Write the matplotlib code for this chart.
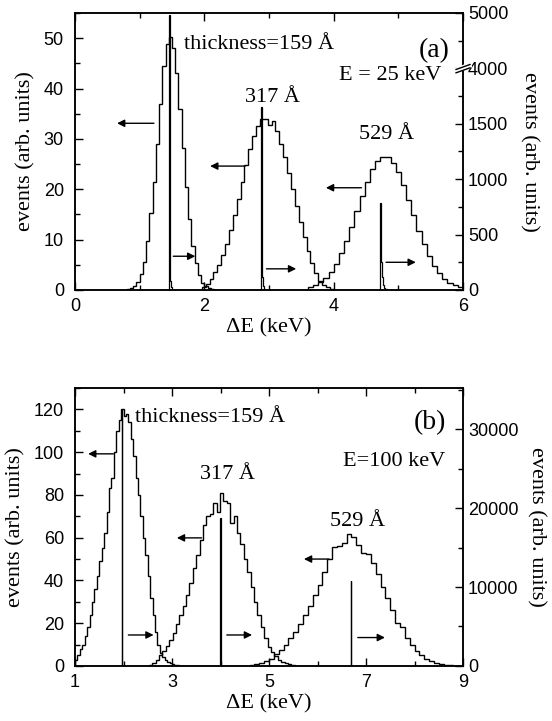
import numpy as np
import matplotlib
matplotlib.use("Agg")
import matplotlib.pyplot as plt
from matplotlib.ticker import MultipleLocator, FixedLocator

plt.rcParams['font.family'] = ['Liberation Sans', 'DejaVu Sans']
SERIF = ['Liberation Serif', 'DejaVu Serif']

# ---- panel (a): E = 25 keV ----
# broad peaks (left axis): bin start, bin width, counts
a159_start, a159_width = 0.75, 0.05
a159_counts = [0, 0.2, 0.4, 0.8, 1.6, 3.2, 5.5, 9.8, 15.2, 21.5, 29.0, 37.0, 44.5,
               48.8, 50.3, 48.0, 43.0, 36.0, 28.2, 20.5, 14.0, 8.8, 5.3, 2.9, 1.4,
               0.8, 0.4, 0.2, 0]
a317_start, a317_width = 1.96, 0.06
a317_counts = [0.5, 1.2, 2.2, 3.5, 5.0, 6.9, 9.2, 11.9, 14.8, 18.1, 21.5, 24.8,
               27.9, 30.5, 32.5, 33.9, 33.9, 32.8, 33.5, 31.5, 29.0, 26.5, 23.2,
               20.0, 16.6, 13.5, 10.5, 7.8, 5.4, 3.4, 1.8, 1.0, 0.5, 0.2]
a529_start, a529_width = 3.60, 0.08
a529_counts = [0.5, 0.9, 1.5, 2.4, 3.6, 5.2, 7.3, 9.7, 12.5, 15.6, 18.7, 21.5,
               24.0, 25.7, 26.5, 26.5, 25.3, 23.4, 20.9, 17.9, 14.8, 11.8, 9.1,
               6.7, 4.8, 3.3, 2.2, 1.4, 0.9, 0.5]
# narrow peaks (right axis, broken scale: 2000 -> 4000, 2500 -> 5000)
s_a159_start, s_a159_width = 1.455, 0.01
s_a159_counts = [2480, 350, 80, 25, 10, 4, 0]
s_a317_start, s_a317_width = 2.875, 0.01
s_a317_counts = [1650, 500, 120, 40, 15, 5, 0]
s_a529_start, s_a529_width = 4.715, 0.01
s_a529_counts = [785, 540, 250, 120, 70, 45, 30, 20, 12, 8, 5, 3, 0]
a_right_ticks = [0, 500, 1000, 1500, 2000, 2500]
a_right_labels = ['0', '500', '1000', '1500', '4000', '5000']

# ---- panel (b): E = 100 keV ----
b159_start, b159_width = 1.00, 0.05
b159_counts = [3, 5, 8, 10, 14, 18, 24, 30, 36, 42, 49, 55, 62, 72, 83, 88, 100,
               110, 115, 120, 117, 118, 114, 106, 98, 88, 80, 70, 60, 52, 42, 32,
               24, 16, 10, 6, 4, 3, 2, 1.5, 1, 0.5, 0.3, 0]
b317_start, b317_width = 2.52, 0.07
b317_counts = [0.5, 1.5, 3, 5, 7, 9.5, 12, 15.5, 19.5, 24, 28, 33, 39, 46, 52, 59,
               66, 70, 71, 76, 72, 81, 77, 76, 67, 70, 62, 57, 50, 44, 37, 30, 24,
               18, 13, 9, 6.5, 4.5, 3, 2, 1.3, 0.8, 0.4, 0.2]
b529_start, b529_width = 4.60, 0.10
b529_counts = [0.3, 0.7, 1.3, 2.2, 3.5, 5.5, 7.5, 10, 13, 16, 19.5, 24, 28, 33,
               38, 44, 50, 55.5, 56, 57.5, 61.5, 60.5, 56.5, 53, 52.5, 48, 43, 37,
               32, 26, 20, 18, 13, 10, 7, 5, 3.5, 2.5, 1.5, 1, 0.6, 0.4, 0.2, 0.1]
s_b159_start, s_b159_width = 1.97, 0.005
s_b159_counts = [32500]
s_b317_start, s_b317_width = 3.995, 0.005
s_b317_counts = [18700]
s_b529_start, s_b529_width = 6.695, 0.005
s_b529_counts = [10700]
b_xticks = [1, 3, 5, 7, 9]


def edges(start, width, counts):
    return start + width * np.arange(len(counts) + 1)


def hist(ax, start, width, counts, lw=1.0):
    ax.stairs(counts, edges(start, width, counts), color='k', lw=lw, baseline=0)


def arrow(ax, tail, head):
    ax.annotate('', xy=head, xytext=tail,
                arrowprops=dict(arrowstyle='-|>', color='k', lw=1.0,
                                mutation_scale=11, shrinkA=0, shrinkB=0))


def style(ax, ax2):
    for a in (ax, ax2):
        for s in a.spines.values():
            s.set_linewidth(1.1)
    ax.tick_params(which='both', direction='in', top=True, right=False,
                   labelsize=13, width=1.0)
    ax.tick_params(which='major', length=6)
    ax.tick_params(which='minor', length=3.5)
    ax.tick_params(axis='x', which='major', pad=6)
    ax.tick_params(axis='y', which='major', pad=8)
    ax2.tick_params(which='both', direction='in', labelsize=13, width=1.0)
    ax2.tick_params(which='major', length=6)
    ax2.tick_params(which='minor', length=3.5)


fig = plt.figure(figsize=(5.52, 7.21), dpi=100)

# ---------------- (a) ----------------
ax = fig.add_axes([0.1359, 0.5978, 0.7029, 0.3842])
ax2 = ax.twinx()
hist(ax, a159_start, a159_width, a159_counts)
hist(ax, a317_start, a317_width, a317_counts)
hist(ax, a529_start, a529_width, a529_counts)
hist(ax2, s_a159_start, s_a159_width, s_a159_counts, lw=0.9)
hist(ax2, s_a317_start, s_a317_width, s_a317_counts, lw=0.9)
hist(ax2, s_a529_start, s_a529_width, s_a529_counts, lw=0.9)
ax.set_xlim(0, 6)
ax.set_ylim(0, 55)
ax2.set_ylim(0, 2500)
ax.xaxis.set_major_locator(MultipleLocator(2))
ax.xaxis.set_minor_locator(MultipleLocator(1))
ax.yaxis.set_major_locator(MultipleLocator(10))
ax.yaxis.set_minor_locator(MultipleLocator(5))
ax2.yaxis.set_major_locator(FixedLocator(a_right_ticks))
ax2.set_yticklabels(a_right_labels)
ax2.yaxis.set_minor_locator(MultipleLocator(250))
style(ax, ax2)

# axis break on the right spine
yb = 2000 / 2500
ax2.plot([0.985, 1.015], [yb - 0.006, yb + 0.010], transform=ax2.transAxes,
         color='white', lw=4, clip_on=False, zorder=5)
for dy in (-0.012, 0.0):
    ax2.plot([0.982, 1.018], [yb + dy - 0.004, yb + dy + 0.014],
             transform=ax2.transAxes, color='k', lw=1.0, clip_on=False, zorder=6)

ax.set_xlabel('ΔE (keV)', family=SERIF, fontsize=16, labelpad=2)
ax.set_ylabel('events (arb. units)', family=SERIF, fontsize=16, labelpad=6)
ax2.set_ylabel('events (arb. units)', family=SERIF, fontsize=16,
               rotation=270, labelpad=22)

ax.text(1.68, 48.8, 'thickness=159 Å', family=SERIF, fontsize=16, va='center')
ax.text(3.06, 38.3, '317 Å', family=SERIF, fontsize=16, ha='center', va='center')
ax.text(4.82, 30.8, '529 Å', family=SERIF, fontsize=16, ha='center', va='center')
ax.text(5.55, 47.5, '(a)', family=SERIF, fontsize=20, ha='center', va='center')
ax.text(5.66, 42.5, 'E = 25 keV', family=SERIF, fontsize=16, ha='right', va='center')

arrow(ax, (1.22, 33.1), (0.65, 33.1))
arrow(ax, (1.52, 6.7), (1.86, 6.7))
arrow(ax, (2.63, 24.6), (2.09, 24.6))
arrow(ax, (2.96, 4.2), (3.42, 4.2))
arrow(ax, (4.43, 20.3), (3.88, 20.3))
arrow(ax, (4.81, 5.5), (5.27, 5.5))

# ---------------- (b) ----------------
bx = fig.add_axes([0.1359, 0.0763, 0.7029, 0.3856])
bx2 = bx.twinx()
hist(bx, b159_start, b159_width, b159_counts)
hist(bx, b317_start, b317_width, b317_counts)
hist(bx, b529_start, b529_width, b529_counts)
hist(bx2, s_b159_start, s_b159_width, s_b159_counts, lw=0.9)
hist(bx2, s_b317_start, s_b317_width, s_b317_counts, lw=0.9)
hist(bx2, s_b529_start, s_b529_width, s_b529_counts, lw=0.9)
bx.set_xlim(1, 9)
bx.set_ylim(0, 130)
bx2.set_ylim(0, 35200)
bx.xaxis.set_major_locator(FixedLocator(b_xticks))
bx.xaxis.set_minor_locator(MultipleLocator(1))
bx.yaxis.set_major_locator(MultipleLocator(20))
bx.yaxis.set_minor_locator(MultipleLocator(10))
bx2.yaxis.set_major_locator(MultipleLocator(10000))
bx2.yaxis.set_minor_locator(MultipleLocator(5000))
style(bx, bx2)

bx.set_xlabel('ΔE (keV)', family=SERIF, fontsize=16, labelpad=2)
bx.set_ylabel('events (arb. units)', family=SERIF, fontsize=16, labelpad=6)
bx2.set_ylabel('events (arb. units)', family=SERIF, fontsize=16,
               rotation=270, labelpad=20)

bx.text(2.24, 116, 'thickness=159 Å', family=SERIF, fontsize=16, va='center')
bx.text(4.14, 89.5, '317 Å', family=SERIF, fontsize=16, ha='center', va='center')
bx.text(6.82, 67.7, '529 Å', family=SERIF, fontsize=16, ha='center', va='center')
bx.text(8.32, 114, '(b)', family=SERIF, fontsize=20, ha='center', va='center')
bx.text(8.63, 95.8, 'E=100 keV', family=SERIF, fontsize=16, ha='right', va='center')

arrow(bx, (1.79, 99.2), (1.27, 99.2))
arrow(bx, (2.10, 14.5), (2.62, 14.5))
arrow(bx, (3.61, 59.9), (3.10, 59.9))
arrow(bx, (4.13, 14.5), (4.65, 14.5))
arrow(bx, (6.24, 50.0), (5.72, 50.0))
arrow(bx, (6.83, 13.3), (7.39, 13.3))

fig.savefig('out.png', dpi=100)
